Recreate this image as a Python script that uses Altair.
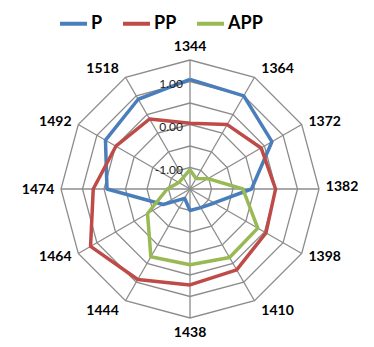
import altair as alt
import pandas as pd

# Radar chart: three series over twelve categories
categories = ["1344", "1364", "1372", "1382", "1398", "1410",
              "1438", "1444", "1464", "1474", "1492", "1518"]
p_values = [1.05, 1.00, 0.70, -0.07, -0.85, -1.00, -1.00, -1.25, -0.78, 0.43, 0.77, 0.91]
pp_values = [0.03, 0.23, 0.41, 0.49, 0.54, 0.67, 0.73, 0.93, 1.17, 0.75, 0.49, 0.38]
app_values = [-1.05, -1.22, -1.02, -0.27, 0.32, 0.34, 0.26, 0.32, -0.36, -0.97, -1.20, -1.19]

series_names = ["P", "PP", "APP"]
series_colors = ["#4A7EBB", "#BE4B48", "#98B954"]

ring_values = [-1.0, -0.5, 0.0, 0.5, 1.0, 1.5]
tick_values = [-1.0, 0.0, 1.0]
tick_labels = ["-1.00", "0.00", "1.00"]
axis_min = -1.5
axis_max = 1.5

n = len(categories)

# long tables (polygons are closed by repeating the first vertex)
rows = []
for name, vals in zip(series_names, [p_values, pp_values, app_values]):
    for i in range(n + 1):
        rows.append({"series": name, "idx": i, "value": vals[i % n]})
series_df = pd.DataFrame(rows)

ring_df = pd.DataFrame([{"ring": v, "idx": i} for v in ring_values for i in range(n + 1)])
spoke_df = pd.DataFrame({"idx": list(range(n)), "category": categories, "value": [axis_max] * n})
tick_df = pd.DataFrame({"value": tick_values, "label": tick_labels})

# pixel geometry of the polar frame
W, H = 374, 347
cx, cy = 190, 189
outer_px = 129
unit = outer_px / (axis_max - axis_min)   # pixels per data unit

xs = alt.Scale(domain=[-cx / unit, (W - cx) / unit], nice=False, zero=False)
ys = alt.Scale(domain=[-(H - cy) / unit, cy / unit], nice=False, zero=False)

ANG = f"datum.idx * 2 * PI / {n}"


def polar(chart, field):
    r = f"(datum.{field} - ({axis_min}))"
    return chart.transform_calculate(
        x=f"{r} * sin({ANG})",
        y=f"{r} * cos({ANG})",
    )


X = alt.X("x:Q", scale=xs, axis=None)
Y = alt.Y("y:Q", scale=ys, axis=None)
GRID = "#8C8C8C"

grid = polar(alt.Chart(ring_df), "ring").mark_line(
    color=GRID, strokeWidth=1.3
).encode(x=X, y=Y, detail="ring:N", order="idx:Q")

spokes = polar(alt.Chart(spoke_df), "value").transform_calculate(
    x0="0", y0="0"
).mark_rule(color=GRID, strokeWidth=1.3).encode(
    x=alt.X("x0:Q", scale=xs, axis=None),
    y=alt.Y("y0:Q", scale=ys, axis=None),
    x2="x:Q", y2="y:Q",
)

lines = polar(alt.Chart(series_df), "value").mark_line(
    strokeWidth=3.5, strokeJoin="round"
).encode(
    x=X, y=Y, order="idx:Q",
    color=alt.Color(
        "series:N",
        scale=alt.Scale(domain=series_names, range=series_colors),
        legend=alt.Legend(
            orient="none", legendX=58, legendY=8, direction="horizontal",
            title=None, symbolType="stroke", symbolSize=729, symbolStrokeWidth=4,
            labelFont="Lato", labelFontSize=18, labelFontWeight="bold",
            labelColor="black", columnPadding=12, labelOffset=2,
        ),
    ),
)

ticks = alt.Chart(tick_df).transform_calculate(
    x="0", y=f"datum.value - ({axis_min})"
).mark_text(
    align="right", baseline="middle", dx=-7, dy=2.5,
    font="Lato", fontSize=12, color="#222222",
).encode(x=X, y=Y, text="label:N")

# category labels sit just outside each outer vertex
R_OUT = f"({axis_max} - ({axis_min}))"
S = f"sin({ANG})"
C = f"cos({ANG})"
cats = alt.Chart(spoke_df).transform_calculate(
    ox=f"(abs({S}) > 0.1 ? (({S}) > 0 ? 23 : -23) : 0) / {unit}",
    oy=f"(({C}) >= 0 ? (2 + 11 * pow({C}, 4)) : -(1 + 14 * pow(-({C}), 2.5))) / {unit}",
).transform_calculate(
    x=f"{R_OUT} * {S} + datum.ox",
    y=f"{R_OUT} * {C} + datum.oy",
).mark_text(
    align="center", baseline="middle", font="Lato", fontSize=14,
    fontWeight="bold", color="black",
).encode(x=X, y=Y, text="category:N")

chart = alt.layer(grid, spokes, lines, ticks, cats).properties(
    width=W, height=H, padding=0,
    autosize=alt.AutoSizeParams(type="none"),
    background="white",
).configure_view(stroke=None)

chart.save("out.html", embed_options={"renderer": "svg", "actions": False})
